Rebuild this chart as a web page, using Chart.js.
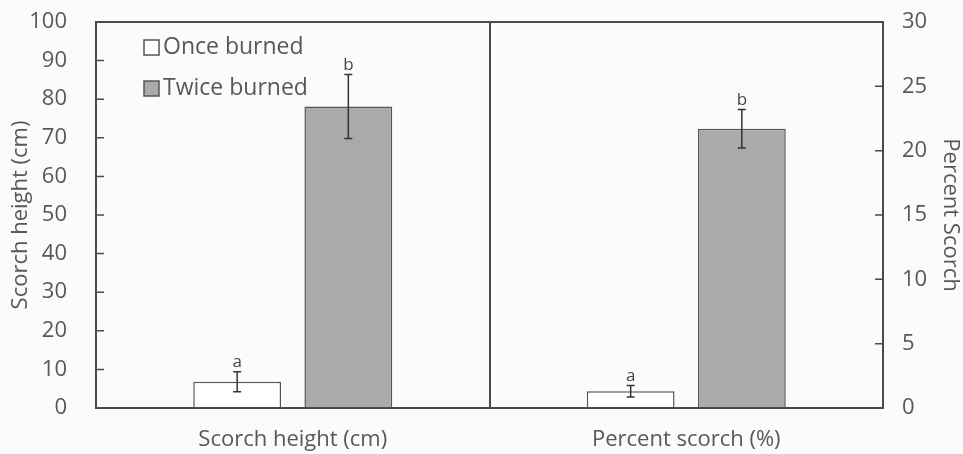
<!DOCTYPE html>
<html lang="en">
<head>
    <meta charset="UTF-8">
    <title>Scorch height and percent scorch</title>
    <script src="https://cdn.jsdelivr.net/npm/chart.js"></script>
    <style>
        html, body { margin: 0; padding: 0; background: #fbfbfb; }
        #wrap { width: 963px; height: 454px; }
    </style>
</head>
<body>
    <div id="wrap"><canvas id="scorchChart"></canvas></div>
    <script>
        const categories = ['Scorch height (cm)', 'Percent scorch (%)'];
        const seriesNames = ['Once burned', 'Twice burned'];
        const onceBurned = [6.8, 1.3];
        const twiceBurned = [78.1, 21.7];
        const onceErr = [2.6, 0.45];
        const twiceErr = [8.3, 1.5];
        const onceLetters = ['a', 'a'];
        const twiceLetters = ['b', 'b'];
        const leftTicks = [0, 10, 20, 30, 40, 50, 60, 70, 80, 90, 100];
        const rightTicks = [0, 5, 10, 15, 20, 25, 30];

        const FONT = '"Open Sans", sans-serif';
        const TEXT = '#585858';
        const LINE = '#4a4a4a';

        // each category is plotted against its own axis
        const axisIds = ['y', 'y1'];
        const pick = (arr, i) => categories.map((c, j) => j === i ? arr[j] : null);
        const datasets = [];
        axisIds.forEach((axis, i) => {
            datasets.push({
                label: seriesNames[0], data: pick(onceBurned, i), err: pick(onceErr, i), letters: pick(onceLetters, i),
                yAxisID: axis, backgroundColor: '#ffffff', borderColor: '#555', borderWidth: 1.5
            });
            datasets.push({
                label: seriesNames[1], data: pick(twiceBurned, i), err: pick(twiceErr, i), letters: pick(twiceLetters, i),
                yAxisID: axis, backgroundColor: '#aaaaaa', borderColor: '#555', borderWidth: 1.5
            });
        });

        // fixed box sizes so the plot area lands where the original has it
        const fitY = width => s => { s.width = width; s.paddingTop = 0; s.paddingBottom = 0; };

        const extras = {
            id: 'extras',
            afterDatasetsDraw(chart) {
                const ctx = chart.ctx;
                const area = chart.chartArea;
                ctx.save();
                // error bars and letters
                chart.data.datasets.forEach((ds, di) => {
                    const meta = chart.getDatasetMeta(di);
                    const scale = chart.scales[ds.yAxisID];
                    meta.data.forEach((bar, j) => {
                        if (ds.data[j] === null) return;
                        const top = scale.getPixelForValue(ds.data[j] + ds.err[j]);
                        const bot = scale.getPixelForValue(ds.data[j] - ds.err[j]);
                        ctx.strokeStyle = '#333';
                        ctx.lineWidth = 1.5;
                        ctx.beginPath();
                        ctx.moveTo(bar.x, top); ctx.lineTo(bar.x, bot);
                        ctx.moveTo(bar.x - 4, top); ctx.lineTo(bar.x + 4, top);
                        ctx.moveTo(bar.x - 4, bot); ctx.lineTo(bar.x + 4, bot);
                        ctx.stroke();
                        ctx.fillStyle = '#444';
                        ctx.font = '17px ' + FONT;
                        ctx.textAlign = 'center';
                        ctx.textBaseline = 'bottom';
                        ctx.fillText(ds.letters[j], bar.x, top - 1);
                    });
                });
                // frame
                ctx.strokeStyle = LINE;
                ctx.lineWidth = 2;
                ctx.strokeRect(area.left, area.top, area.right - area.left, area.bottom - area.top);
                // inward tick marks
                ctx.lineWidth = 1.5;
                ctx.beginPath();
                leftTicks.slice(1, -1).forEach(v => {
                    const y = chart.scales.y.getPixelForValue(v);
                    ctx.moveTo(area.left, y); ctx.lineTo(area.left + 8, y);
                });
                rightTicks.slice(1, -1).forEach(v => {
                    const y = chart.scales.y1.getPixelForValue(v);
                    ctx.moveTo(area.right - 8, y); ctx.lineTo(area.right, y);
                });
                ctx.stroke();
                // legend inside the plot
                ctx.font = '23px ' + FONT;
                ctx.textAlign = 'left';
                ctx.textBaseline = 'middle';
                [0, 1].forEach(k => {
                    const ds = chart.data.datasets[k];
                    const y = area.top + 25 + k * 41;
                    const x = area.left + 48;
                    ctx.fillStyle = ds.backgroundColor;
                    ctx.fillRect(x, y - 7, 15, 15);
                    ctx.strokeStyle = '#555';
                    ctx.lineWidth = 1.5;
                    ctx.strokeRect(x, y - 7, 15, 15);
                    ctx.fillStyle = TEXT;
                    ctx.fillText(ds.label, x + 19, y);
                });
                ctx.restore();
            }
        };

        new Chart(document.getElementById('scorchChart'), {
            type: 'bar',
            data: { labels: categories, datasets: datasets },
            options: {
                responsive: true,
                maintainAspectRatio: false,
                animation: false,
                layout: { autoPadding: false, padding: { left: 0, right: 0, top: 22, bottom: 0 } },
                datasets: { bar: { skipNull: true, categoryPercentage: 0.565, barPercentage: 0.79 } },
                plugins: { legend: { display: false }, tooltip: { enabled: false } },
                scales: {
                    x: {
                        offset: true,
                        afterFit: s => { s.height = 46; s.paddingLeft = 0; s.paddingRight = 0; },
                        grid: { offset: true, drawTicks: false, color: LINE, lineWidth: 2 },
                        border: { display: false },
                        ticks: { color: TEXT, font: { family: FONT, size: 22 }, padding: 19 }
                    },
                    y: {
                        position: 'left', min: 0, max: 100,
                        afterBuildTicks: s => { s.ticks = leftTicks.map(v => ({ value: v })); },
                        afterFit: fitY(96),
                        grid: { display: false, drawTicks: false },
                        border: { display: false },
                        ticks: { color: TEXT, font: { family: FONT, size: 22 }, padding: 29 },
                        title: { display: true, text: 'Scorch height (cm)', color: TEXT, font: { family: FONT, size: 22 }, padding: { top: 8, bottom: 0 } }
                    },
                    y1: {
                        position: 'right', min: 0, max: 30,
                        afterBuildTicks: s => { s.ticks = rightTicks.map(v => ({ value: v })); },
                        afterFit: fitY(80),
                        grid: { display: false, drawTicks: false },
                        border: { display: false },
                        ticks: { color: TEXT, font: { family: FONT, size: 22 }, padding: 19 },
                        title: { display: true, text: 'Percent Scorch', color: TEXT, font: { family: FONT, size: 22 }, padding: { top: 0, bottom: 0 } }
                    }
                }
            },
            plugins: [extras]
        });
    </script>
</body>
</html>
